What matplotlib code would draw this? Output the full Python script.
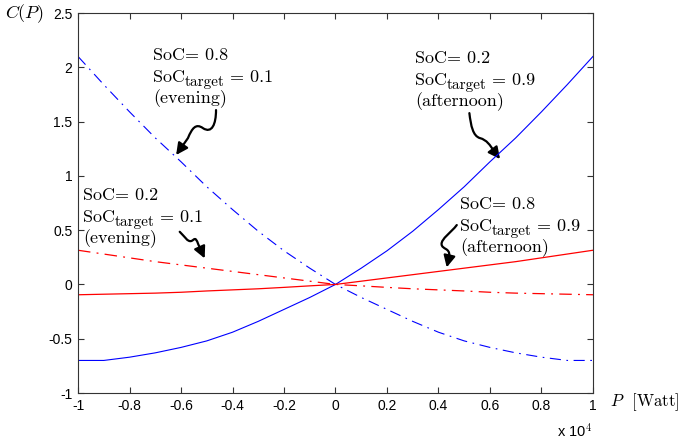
import matplotlib
matplotlib.use('Agg')
import matplotlib.pyplot as plt
from matplotlib.path import Path
from matplotlib.patches import FancyArrowPatch
from matplotlib.transforms import offset_copy

plt.rcParams['mathtext.fontset'] = 'cm'
plt.rcParams['font.family'] = ['Liberation Sans', 'DejaVu Sans']

# power in units of 10^4 W
power = [-1.0, -0.9, -0.8, -0.7, -0.6, -0.5, -0.4, -0.3, -0.2, -0.1, 0.0,
         0.1, 0.2, 0.3, 0.4, 0.5, 0.6, 0.7, 0.8, 0.9, 1.0]

# SoC 0.2 -> target 0.9 (afternoon), blue solid
cost_02_09 = [-0.70, -0.70, -0.67, -0.63, -0.58, -0.52, -0.44, -0.34, -0.23, -0.12, 0.0,
              0.15, 0.31, 0.49, 0.69, 0.90, 1.13, 1.35, 1.59, 1.84, 2.10]
# SoC 0.8 -> target 0.1 (evening), blue dash-dot
cost_08_01 = [2.10, 1.84, 1.59, 1.35, 1.13, 0.90, 0.69, 0.49, 0.31, 0.15, 0.0,
              -0.12, -0.23, -0.34, -0.44, -0.52, -0.58, -0.63, -0.67, -0.70, -0.70]
# SoC 0.8 -> target 0.9 (afternoon), red solid
cost_08_09 = [-0.095, -0.09, -0.085, -0.08, -0.072, -0.06, -0.05, -0.04, -0.027, -0.013, 0.0,
              0.03, 0.06, 0.09, 0.12, 0.15, 0.18, 0.21, 0.245, 0.28, 0.315]
# SoC 0.2 -> target 0.1 (evening), red dash-dot
cost_02_01 = [0.315, 0.28, 0.245, 0.21, 0.18, 0.15, 0.12, 0.09, 0.06, 0.03, 0.0,
              -0.013, -0.027, -0.04, -0.05, -0.06, -0.072, -0.08, -0.085, -0.09, -0.095]

xticks = [-1, -0.8, -0.6, -0.4, -0.2, 0, 0.2, 0.4, 0.6, 0.8, 1]
xtick_labels = ['-1', '-0.8', '-0.6', '-0.4', '-0.2', '0', '0.2', '0.4', '0.6', '0.8', '1']
yticks = [-1, -0.5, 0, 0.5, 1, 1.5, 2, 2.5]
ytick_labels = ['-1', '-0.5', '0', '0.5', '1', '1.5', '2', '2.5']

fig = plt.figure(figsize=(6.79, 4.41), dpi=100)
ax = fig.add_axes([0.1149, 0.1088, 0.7584, 0.8617])

dashdot = (0, (10, 5, 1.5, 5))
ax.plot(power, cost_02_09, color='#0000ff', lw=0.8)
ax.plot(power, cost_08_01, color='#0000ff', lw=0.8, ls=dashdot)
ax.plot(power, cost_08_09, color='#ff0000', lw=0.9)
ax.plot(power, cost_02_01, color='#ff0000', lw=0.9, ls=dashdot)

ax.set_xlim(-1, 1)
ax.set_ylim(-1, 2.5)
ax.set_xticks(xticks)
ax.set_xticklabels(xtick_labels)
ax.set_yticks(yticks)
ax.set_yticklabels(ytick_labels)
ax.tick_params(direction='in', top=True, right=True, length=4, width=0.8,
               labelsize=10, color='#333333')
ax.tick_params(axis='x', pad=4)
ax.tick_params(axis='y', pad=4)
for s in ax.spines.values():
    s.set_color('#333333')
    s.set_linewidth(0.8)

serif = 'cmr10'

# axis labels, MATLAB style
fig.text(5 / 679, 1 - 14 / 441, r'$C(P)$', fontsize=13, ha='left', va='center')
fig.text(610 / 679, 1 - 402 / 441, r'$P$  [Watt]', fontsize=12, family=serif,
         ha='left', va='center')
fig.text(557 / 679, 1 - 431 / 441, r'x 10$^4$', fontsize=10.5, ha='left', va='center')

# annotation blocks: (x, baseline of first line, soc, target, period)
blocks = [
    (-0.709, 2.066, '0.8', '0.1', '(evening)'),
    (0.309, 2.039, '0.2', '0.9', '(afternoon)'),
    (-0.981, 0.777, '0.2', '0.1', '(evening)'),
    (0.483, 0.694, '0.8', '0.9', '(afternoon)'),
]
renderer = fig.canvas.get_renderer()
line_gap = 21.5
fs = 13
for bx, by, soc, target, period in blocks:
    tr0 = ax.transData
    ax.text(bx, by, 'SoC= ' + soc, transform=tr0, fontsize=fs, family=serif,
            ha='left', va='baseline')
    tr1 = offset_copy(tr0, fig=fig, y=-line_gap, units='dots')
    t = ax.text(bx, by, 'SoC', transform=tr1, fontsize=fs, family=serif,
                ha='left', va='baseline')
    w = t.get_window_extent(renderer).width
    tr_sub = offset_copy(tr0, fig=fig, x=w, y=-line_gap - 4, units='dots')
    ts = ax.text(bx, by, 'target', transform=tr_sub, fontsize=11, family=serif,
                 ha='left', va='baseline')
    w2 = ts.get_window_extent(renderer).width
    tr_eq = offset_copy(tr0, fig=fig, x=w + w2 + 5, y=-line_gap, units='dots')
    ax.text(bx, by, '= ' + target, transform=tr_eq, fontsize=fs, family=serif,
            ha='left', va='baseline')
    tr2 = offset_copy(tr0, fig=fig, y=-2 * line_gap, units='dots')
    ax.text(bx, by, period, transform=tr2, fontsize=fs, family=serif,
            ha='left', va='baseline')

# squiggly arrows
C4 = Path.CURVE4
arrows = [
    ([(-0.464, 1.606), (-0.464, 1.477), (-0.480, 1.385), (-0.515, 1.440),
      (-0.542, 1.486), (-0.557, 1.440), (-0.573, 1.348), (-0.619, 1.192)],
     [Path.MOVETO, C4, C4, C4, C4, C4, C4, Path.LINETO]),
    ([(0.520, 1.578), (0.526, 1.459), (0.534, 1.367), (0.561, 1.348),
      (0.588, 1.330), (0.600, 1.284), (0.615, 1.230), (0.639, 1.155)],
     [Path.MOVETO, C4, C4, C4, C4, C4, C4, Path.LINETO]),
    ([(-0.605, 0.485), (-0.585, 0.440), (-0.575, 0.390), (-0.560, 0.400),
      (-0.548, 0.410), (-0.545, 0.450), (-0.533, 0.370), (-0.508, 0.240)],
     [Path.MOVETO, C4, C4, C4, C4, C4, C4, Path.LINETO]),
    ([(0.471, 0.547), (0.450, 0.480), (0.410, 0.420), (0.412, 0.370),
      (0.414, 0.320), (0.445, 0.340), (0.442, 0.260), (0.432, 0.157)],
     [Path.MOVETO, C4, C4, C4, C4, C4, C4, Path.LINETO]),
]
for verts, codes in arrows:
    arr = FancyArrowPatch(path=Path(verts, codes),
                          arrowstyle='-|>,head_length=7,head_width=3.5',
                          lw=1.6, color='black', shrinkA=0, shrinkB=0)
    ax.add_patch(arr)

fig.savefig('out.png', dpi=100)
